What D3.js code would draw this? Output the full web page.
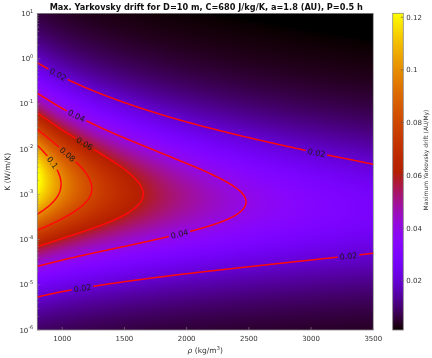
<!DOCTYPE html>
<html>
<head>
<meta charset="utf-8">
<script src="https://cdn.jsdelivr.net/npm/d3@7"></script>
<style>
  body { margin: 0; background: #fff; }
  #wrap { position: relative; width: 432px; height: 358px; overflow: hidden; }
  #wrap canvas, #wrap svg { position: absolute; left: 0; top: 0; }
  text { font-family: "DejaVu Sans", "Liberation Sans", sans-serif; }
</style>
</head>
<body>
<div id="wrap"></div>
<script>
// Density (kg/m^3) sample columns
const rhoGrid = [800, 1000, 1250, 1500, 1750, 2000, 2500, 3000, 3500];
// log10 of thermal conductivity K (W/m/K) sample rows
const logKGrid = [-6, -5.5, -5, -4.5, -4, -3.5, -3, -2.5, -2, -1.5, -1, -0.5, 0, 0.5, 1];
// Maximum Yarkovsky drift (AU/My), one row per logK, one column per density
const drift = [
  [0.00895, 0.0080, 0.00713, 0.00648, 0.00598, 0.00557, 0.00496, 0.0045, 0.00415],
  [0.0156, 0.0138, 0.01228, 0.01115, 0.01026, 0.00953, 0.00844, 0.00764, 0.00701],
  [0.0265, 0.0234, 0.0207, 0.0187, 0.01713, 0.01585, 0.01393, 0.01252, 0.01142],
  [0.0437, 0.0383, 0.0335, 0.0300, 0.0273, 0.02506, 0.02172, 0.01928, 0.0174],
  [0.0682, 0.0589, 0.0506, 0.0446, 0.0400, 0.0364, 0.0309, 0.0269, 0.0238],
  [0.0967, 0.0816, 0.0684, 0.0590, 0.0519, 0.0463, 0.0381, 0.0323, 0.0280],
  [0.1192, 0.0973, 0.0788, 0.0660, 0.0566, 0.0495, 0.0392, 0.0322, 0.0272],
  [0.1225, 0.0963, 0.0752, 0.0612, 0.0512, 0.0437, 0.0335, 0.0268, 0.0221],
  [0.1044, 0.0794, 0.0601, 0.0476, 0.0391, 0.0328, 0.0245, 0.0192, 0.01561],
  [0.0762, 0.0566, 0.0418, 0.0326, 0.0264, 0.0219, 0.01608, 0.01245, 0.01002],
  [0.0500, 0.0365, 0.0267, 0.0206, 0.01652, 0.01363, 0.00989, 0.0076, 0.00608],
  [0.0307, 0.0222, 0.0161, 0.01236, 0.00987, 0.00811, 0.00584, 0.00448, 0.00357],
  [0.0182, 0.0131, 0.00943, 0.0072, 0.00575, 0.00472, 0.00338, 0.00258, 0.00205],
  [0.0105, 0.00754, 0.00542, 0.00414, 0.00328, 0.0027, 0.00194, 0.00148, 0.00117],
  [0.0060, 0.00431, 0.00309, 0.00236, 0.00187, 0.00153, 0.0011, 0.00084, 0.00066]
];
const colorLimits = [0.0013, 0.1215];
const contourLevels = [0.02, 0.04, 0.06, 0.08, 0.1];
const contourLabelLevels = ["0.02", "0.04", "0.06", "0.08", "0.1"];
// where each inline contour label sits (density, log10 K)
const labelAnchors = [
  { level: 0.02, rho: 966, logK: -0.36 },
  { level: 0.04, rho: 1111, logK: -1.29 },
  { level: 0.06, rho: 1175, logK: -1.91 },
  { level: 0.08, rho: 1047, logK: -2.09 },
  { level: 0.1, rho: 918, logK: -2.31 },
  { level: 0.02, rho: 3039, logK: -2.09 },
  { level: 0.04, rho: 1946, logK: -3.90 },
  { level: 0.02, rho: 3303, logK: -4.32 },
  { level: 0.02, rho: 1160, logK: -5.07 }
];
const xTicks = [1000, 1500, 2000, 2500, 3000, 3500];
const yTickExps = [-6, -5, -4, -3, -2, -1, 0, 1];
const cbTicks = [0.02, 0.04, 0.06, 0.08, 0.1, 0.12];
const cbTickLabels = ["0.02", "0.04", "0.06", "0.08", "0.1", "0.12"];
const titleText = "Max. Yarkovsky drift for D=10 m, C=680 J/kg/K, a=1.8 (AU), P=0.5 h";

const W = 432, H = 358;
const plot = { x0: 37.3, x1: 373.3, y0: 13.5, y1: 330 };
const cbar = { x0: 392.7, x1: 403.3, y0: 13.3, y1: 330 };

const x = d3.scaleLinear().domain([800, 3500]).range([plot.x0, plot.x1]);
const y = d3.scaleLog().domain([1e-6, 10]).range([plot.y1, plot.y0]);
const tScale = d3.scaleLinear().domain(colorLimits).range([0, 1]).clamp(true);
const cb = d3.scaleLinear().domain(colorLimits).range([cbar.y1, cbar.y0]);

// gnuplot-style colormap: r = sqrt(t), g = t^3, b = sin(2*pi*t)
function gnuplotRGB(t) {
  return [
    Math.round(255 * Math.sqrt(t)),
    Math.round(255 * t * t * t),
    Math.round(255 * Math.max(0, Math.sin(2 * Math.PI * t)))
  ];
}
const color = v => { const c = gnuplotRGB(tScale(v)); return `rgb(${c[0]},${c[1]},${c[2]})`; };

// cubic Hermite through samples (finite-difference slopes)
function hermite(xs, ys, xv) {
  const n = xs.length;
  xv = Math.max(xs[0], Math.min(xs[n - 1], xv));
  let k = 0;
  while (k < n - 2 && xv > xs[k + 1]) k++;
  const h = xs[k + 1] - xs[k];
  const d = i => (ys[i + 1] - ys[i]) / (xs[i + 1] - xs[i]);
  const m = i => i === 0 ? d(0) : i === n - 1 ? d(n - 2) : (d(i - 1) + d(i)) / 2;
  const s = (xv - xs[k]) / h, s2 = s * s, s3 = s2 * s;
  return (2 * s3 - 3 * s2 + 1) * ys[k] + (s3 - 2 * s2 + s) * h * m(k) +
         (-2 * s3 + 3 * s2) * ys[k + 1] + (s3 - s2) * h * m(k + 1);
}

// smooth field on the pixel grid (with a small margin for contouring)
const pad = 3;
const gx0 = Math.floor(plot.x0) - pad, gy0 = Math.floor(plot.y0) - pad;
const gw = Math.ceil(plot.x1) + pad - gx0, gh = Math.ceil(plot.y1) + pad - gy0;
const logD = drift.map(r => r.map(Math.log));
const cols = rhoGrid.map((_, c) => logD.map(r => r[c]));
const field = new Float64Array(gw * gh);
for (let j = 0; j < gh; j++) {
  const lk = Math.log10(y.invert(gy0 + j + 0.5));
  const rowVals = cols.map(col => hermite(logKGrid, col, lk));
  for (let i = 0; i < gw; i++) {
    const rho = x.invert(gx0 + i + 0.5);
    field[j * gw + i] = Math.exp(hermite(rhoGrid, rowVals, rho));
  }
}

const wrap = d3.select("#wrap");
const canvas = wrap.append("canvas").attr("width", W).attr("height", H).node();
const ctx = canvas.getContext("2d");
const img = ctx.createImageData(gw, gh);
for (let j = 0; j < gh; j++) {
  for (let i = 0; i < gw; i++) {
    const px = gx0 + i + 0.5, py = gy0 + j + 0.5;
    if (px < plot.x0 || px > plot.x1 || py < plot.y0 || py > plot.y1) continue;
    const c = gnuplotRGB(tScale(field[j * gw + i]));
    const o = 4 * (j * gw + i);
    img.data[o] = c[0]; img.data[o + 1] = c[1]; img.data[o + 2] = c[2]; img.data[o + 3] = 255;
  }
}
ctx.putImageData(img, gx0, gy0);

const svg = wrap.append("svg").attr("width", W).attr("height", H);
const defs = svg.append("defs");
defs.append("clipPath").attr("id", "plotClip").append("rect")
  .attr("x", plot.x0).attr("y", plot.y0)
  .attr("width", plot.x1 - plot.x0).attr("height", plot.y1 - plot.y0);
const mask = defs.append("mask").attr("id", "labelMask").attr("maskUnits", "userSpaceOnUse")
  .attr("x", 0).attr("y", 0).attr("width", W).attr("height", H);
mask.append("rect").attr("width", W).attr("height", H).attr("fill", "#fff");

// contour lines
const contours = d3.contours().size([gw, gh]).thresholds(contourLevels)(field);
const path = d3.geoPath(null);
svg.append("g").attr("clip-path", "url(#plotClip)")
  .append("g").attr("mask", "url(#labelMask)")
  .append("g").attr("transform", `translate(${gx0},${gy0})`)
  .selectAll("path").data(contours).join("path")
  .attr("d", path).attr("fill", "none")
  .attr("stroke", "#ff0a0a").attr("stroke-width", 1.5).attr("stroke-linejoin", "round");

// inline contour labels
const labelG = svg.append("g");
labelAnchors.forEach(a => {
  const k = contourLevels.indexOf(a.level);
  const tx = x(a.rho) - gx0, ty = y(Math.pow(10, a.logK)) - gy0;
  let best = null;
  contours[k].coordinates.forEach(poly => poly.forEach(ring => {
    ring.forEach((p, idx) => {
      const dd = (p[0] - tx) ** 2 + (p[1] - ty) ** 2;
      if (!best || dd < best.dd) best = { dd, ring, idx };
    });
  }));
  if (!best) return;
  const r = best.ring, n = r.length;
  const pA = r[(best.idx - 4 + n) % n], pB = r[(best.idx + 4) % n], pC = r[best.idx];
  let ang = Math.atan2(pB[1] - pA[1], pB[0] - pA[0]) * 180 / Math.PI;
  if (ang > 90) ang -= 180;
  if (ang < -90) ang += 180;
  const cx = pC[0] + gx0, cy = pC[1] + gy0;
  const t = labelG.append("text")
    .attr("transform", `translate(${cx},${cy}) rotate(${ang})`)
    .attr("text-anchor", "middle").attr("dy", "0.35em")
    .attr("font-size", 8).attr("fill", "#1a1a1a")
    .text(contourLabelLevels[k]);
  const tw = t.node().getComputedTextLength();
  mask.append("rect")
    .attr("transform", `translate(${cx},${cy}) rotate(${ang})`)
    .attr("x", -tw / 2 - 2).attr("y", -4.5).attr("width", tw + 4).attr("height", 9)
    .attr("fill", "#000");
});

// plot frame and ticks
const axisColor = "#8a8a8a";
svg.append("rect").attr("x", plot.x0).attr("y", plot.y0)
  .attr("width", plot.x1 - plot.x0).attr("height", plot.y1 - plot.y0)
  .attr("fill", "none").attr("stroke", axisColor).attr("stroke-width", 0.8);

const xt = svg.append("g");
xTicks.forEach(v => {
  xt.append("line").attr("x1", x(v)).attr("x2", x(v)).attr("y1", plot.y1).attr("y2", plot.y1 - 3)
    .attr("stroke", axisColor).attr("stroke-width", 0.6);
  xt.append("text").attr("x", x(v)).attr("y", plot.y1 + 11).attr("text-anchor", "middle")
    .attr("font-size", 7).attr("fill", "#333").text(v);
});

const yt = svg.append("g");
yTickExps.forEach(e => {
  const yy = y(Math.pow(10, e));
  yt.append("line").attr("x1", plot.x0).attr("x2", plot.x0 + 3).attr("y1", yy).attr("y2", yy)
    .attr("stroke", axisColor).attr("stroke-width", 0.6);
  const t = yt.append("text").attr("x", plot.x0 - 4).attr("y", yy + 2.5)
    .attr("text-anchor", "end").attr("font-size", 7).attr("fill", "#333");
  t.append("tspan").text("10");
  t.append("tspan").attr("dy", -3.5).attr("font-size", 5).text(e);
  if (e < 1) {
    for (let m = 2; m <= 9; m++) {
      const ym = y(m * Math.pow(10, e));
      yt.append("line").attr("x1", plot.x0).attr("x2", plot.x0 + 1.8).attr("y1", ym).attr("y2", ym)
        .attr("stroke", axisColor).attr("stroke-width", 0.5);
    }
  }
});

// axis titles
const xl = svg.append("text").attr("x", (plot.x0 + plot.x1) / 2).attr("y", 353)
  .attr("text-anchor", "middle").attr("font-size", 7.5).attr("fill", "#333");
xl.append("tspan").attr("font-style", "italic").text("ρ");
xl.append("tspan").text(" (kg/m");
xl.append("tspan").attr("dy", -3).attr("font-size", 5.5).text("3");
xl.append("tspan").attr("dy", 3).text(")");

svg.append("text").attr("transform", `translate(10,${(plot.y0 + plot.y1) / 2}) rotate(-90)`)
  .attr("text-anchor", "middle").attr("font-size", 7.5).attr("fill", "#333").text("K (W/m/K)");

svg.append("text").attr("x", (plot.x0 + plot.x1) / 2 + 1).attr("y", 10)
  .attr("text-anchor", "middle").attr("font-size", 8.2).attr("font-weight", "bold")
  .attr("fill", "#111").text(titleText);

// colorbar
const cbG = svg.append("g");
const yStart = Math.floor(cbar.y0), yEnd = Math.ceil(cbar.y1);
d3.range(yStart, yEnd).forEach(py => {
  cbG.append("rect").attr("x", cbar.x0).attr("y", py).attr("width", cbar.x1 - cbar.x0).attr("height", 1.05)
    .attr("fill", color(cb.invert(py + 0.5)));
});
cbG.append("rect").attr("x", cbar.x0).attr("y", cbar.y0)
  .attr("width", cbar.x1 - cbar.x0).attr("height", cbar.y1 - cbar.y0)
  .attr("fill", "none").attr("stroke", axisColor).attr("stroke-width", 0.8);
cbTicks.forEach((v, i) => {
  cbG.append("line").attr("x1", cbar.x1 - 2.5).attr("x2", cbar.x1).attr("y1", cb(v)).attr("y2", cb(v))
    .attr("stroke", "#555").attr("stroke-width", 0.6);
  cbG.append("text").attr("x", cbar.x1 + 3).attr("y", cb(v) + 2.5)
    .attr("font-size", 7).attr("fill", "#333").text(cbTickLabels[i]);
});
svg.append("text").attr("transform", `translate(426,160) rotate(-90)`)
  .attr("text-anchor", "middle").attr("dy", "0.35em").attr("font-size", 6).attr("fill", "#333")
  .text("Maximum Yarkovsky drift (AU/My)");
</script>
</body>
</html>
